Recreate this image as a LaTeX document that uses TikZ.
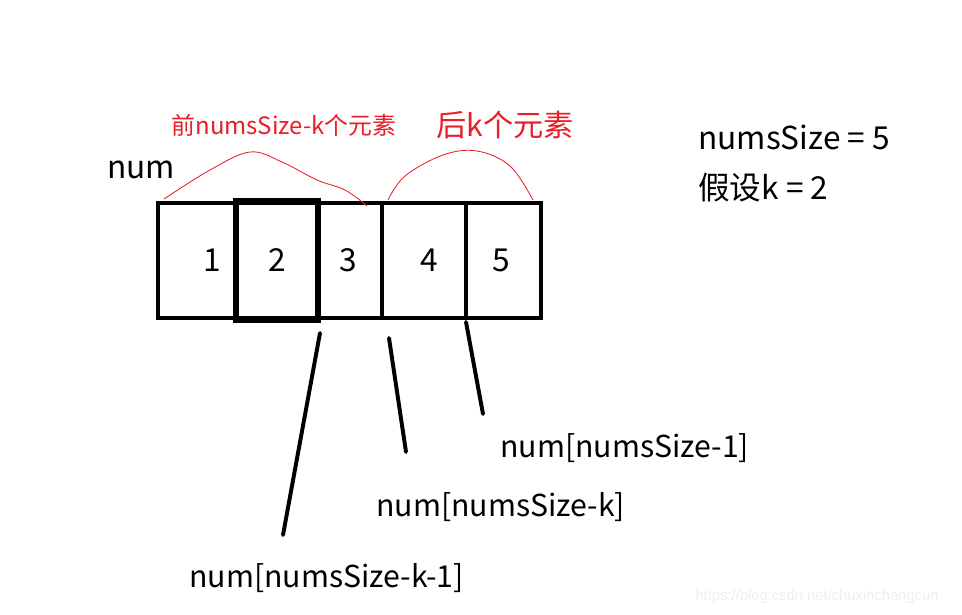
\documentclass[tikz,border=0pt]{standalone}
\usepackage{fontspec}
\setmainfont{Noto Sans CJK SC}
\usepackage{xcolor}
\definecolor{inkred}{RGB}{232, 30, 40}
\definecolor{mark}{RGB}{238, 238, 238}

\begin{document}
\begin{tikzpicture}[
      x=0.025cm, y=-0.025cm,
      every node/.style={inner sep=0pt, font=\fontsize{22.5pt}{27pt}\selectfont},
      cellline/.style={line width=2.8pt},
      thickcell/.style={line width=3.6pt},
      pointer/.style={line width=2.8pt, line cap=round},
      arc/.style={draw=inkred, line width=0.6pt},
      redsmall/.style={text=inkred, font=\fontsize{17pt}{20pt}\selectfont},
      redbig/.style={text=inkred, font=\fontsize{21.5pt}{25pt}\selectfont},
      label/.style={anchor=west},
      index/.style={anchor=west, font=\fontsize{21.5pt}{25pt}\selectfont}
    ]
    \useasboundingbox (0,0) rectangle (962,615);

    % the array
    \draw[cellline] (158,203) rectangle (541,318);
    \draw[cellline] (382,203) -- (382,318);
    \draw[cellline] (466,203) -- (466,318);
    \draw[thickcell] (236,201) rectangle (318,320);

    \node (n1) at (212,260) {1};
    \node (n2) at (277,260) {2};
    \node (n3) at (348,260) {3};
    \node (n4) at (429,260) {4};
    \node (n5) at (501,260) {5};
    \node (arr) at (141,170) {num};

    % red arcs over the two parts
    \draw[arc] plot[smooth, tension=0.6] coordinates
      {(164,199) (210,170) (250,152) (282,162) (317,180) (345,190) (367,206)};
    \draw[arc] plot[smooth, tension=0.6] coordinates
      {(388,200) (405,176) (443,155) (477,151) (510,166) (533,200)};
    \node[redsmall] (front) at (284,125) {前numsSize-k个元素};
    \node[redbig] (back) at (505,125) {后k个元素};

    % given values
    \node[label] (size) at (698,137) {numsSize = 5};
    \node[label] (kval) at (698,188) {假设k = 2};

    % index labels
    \node[index] (last) at (500,448) {num[numsSize-1]};
    \node[index] (mid) at (376,507) {num[numsSize-k]};
    \node[index] (first) at (189,578) {num[numsSize-k-1]};

    \coordinate (p1a) at (320,333);
    \coordinate (p1b) at (283,535);
    \coordinate (p2a) at (389,338);
    \coordinate (p2b) at (406,452);
    \coordinate (p3a) at (466,322);
    \coordinate (p3b) at (483,414);
    \draw[pointer] (p1a) -- (p1b);
    \draw[pointer] (p2a) -- (p2b);
    \draw[pointer] (p3a) -- (p3b);

    \node[text=mark, font={\fontspec{Liberation Sans}\fontsize{10.5pt}{12pt}\selectfont}]
      (site) at (817,597) {https://blog.csdn.net/chuxinchangcun};
  \end{tikzpicture}
\end{document}
